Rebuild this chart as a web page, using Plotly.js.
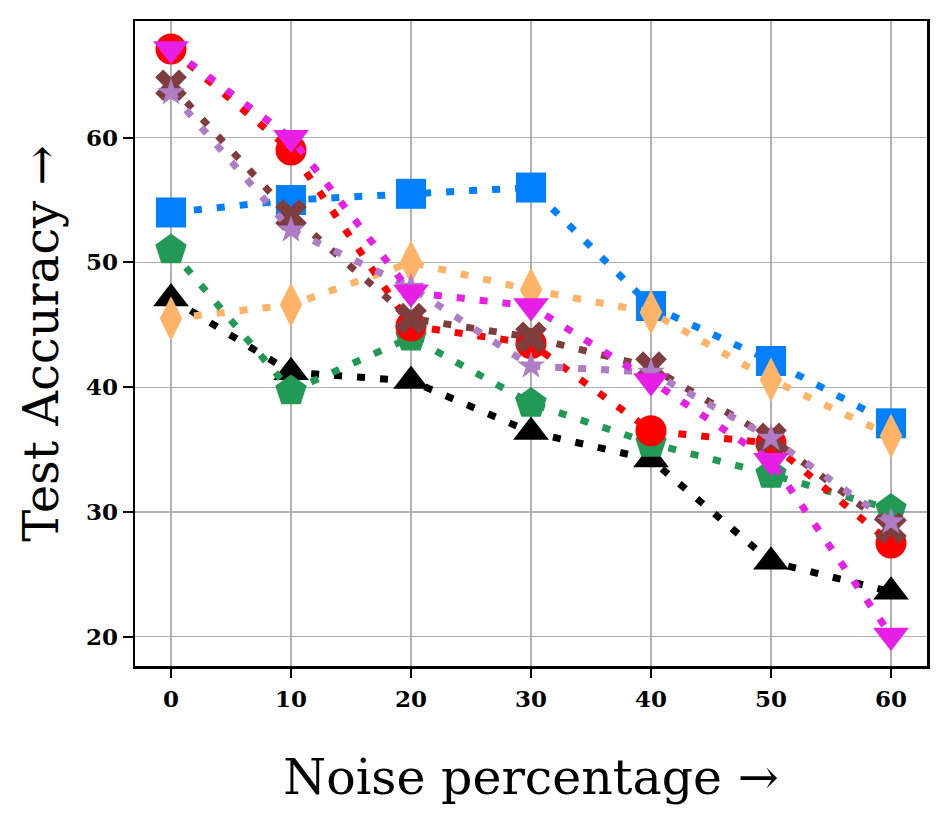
<!DOCTYPE html>
<html>
<head>
<meta charset="utf-8">
<script src="https://cdn.plot.ly/plotly-3.0.1.min.js"></script>
<style>
  html, body { margin: 0; padding: 0; background: #fff; }
  #chart { width: 950px; height: 826px; }
</style>
</head>
<body>
<div id="chart"></div>
<script>
// Noise percentage on the x axis
const noiseLevels = [0, 10, 20, 30, 40, 50, 60];

// Test accuracy per method
const blackAcc = [47.1, 41.2, 40.5, 36.4, 34.2, 26.0, 23.6];
const blueAcc = [54.0, 55.0, 55.5, 56.0, 46.5, 42.1, 37.1];
const orangeAcc = [45.5, 46.6, 50.0, 47.8, 46.0, 40.6, 36.1];
const greenAcc = [51.0, 39.7, 44.0, 38.7, 35.5, 33.0, 30.2];
const redAcc = [67.1, 59.0, 44.9, 43.5, 36.5, 35.5, 27.5];
const brownAcc = [64.2, 53.8, 45.5, 44.0, 41.6, 35.9, 28.7];
const purpleAcc = [63.6, 52.6, 48.0, 41.7, 41.2, 35.9, 29.2];
const magentaAcc = [67.1, 60.0, 47.6, 46.5, 40.5, 34.1, 20.1];

const xTickVals = [0, 10, 20, 30, 40, 50, 60];
const yTickVals = [20, 30, 40, 50, 60];

const serif = "DejaVu Serif, Liberation Serif, serif";

function series(y, color, symbol, size) {
  return {
    x: noiseLevels,
    y: y,
    type: "scatter",
    mode: "lines+markers",
    line: { color: color, width: 7, dash: "8px,15px" },
    marker: { color: color, symbol: symbol, size: size, line: { width: 0 } },
    cliponaxis: false,
  };
}

// drawing order decides which marker sits on top
const data = [
  series(blackAcc, "#000000", "triangle-up", 31),
  series(blueAcc, "#0080ff", "square", 30),
  series(orangeAcc, "#ffb366", "diamond-tall", 32),
  series(greenAcc, "#229a55", "pentagon", 33),
  series(redAcc, "#ff0000", "circle", 31),
  series(brownAcc, "#803d3d", "x", 28),
  series(purpleAcc, "#ae7dc5", "star", 21),
  series(magentaAcc, "#e61ee6", "triangle-down", 31),
];

const layout = {
  width: 950,
  height: 826,
  margin: { l: 135, r: 23, t: 21, b: 160 },
  paper_bgcolor: "#ffffff",
  plot_bgcolor: "#ffffff",
  showlegend: false,
  font: { family: serif, color: "#000" },
  xaxis: {
    range: [-3, 63],
    tickvals: xTickVals,
    ticktext: xTickVals.map(String),
    tickfont: { family: serif, size: 23, weight: "bold" },
    ticks: "outside",
    ticklen: 9,
    tickwidth: 2,
    tickcolor: "#000",
    ticklabelstandoff: 2,
    showline: true,
    mirror: true,
    linecolor: "#000",
    linewidth: 2.5,
    showgrid: true,
    gridcolor: "#b0b0b0",
    gridwidth: 1.2,
    zeroline: false,
    automargin: false,
    title: { text: "Noise percentage →", font: { family: serif, size: 49 }, standoff: 49 },
  },
  yaxis: {
    range: [17.65, 69.35],
    tickvals: yTickVals,
    ticktext: yTickVals.map(String),
    tickfont: { family: serif, size: 23, weight: "bold" },
    ticks: "outside",
    ticklen: 10,
    tickwidth: 2,
    tickcolor: "#000",
    showline: true,
    mirror: true,
    linecolor: "#000",
    linewidth: 2.5,
    showgrid: true,
    gridcolor: "#b0b0b0",
    gridwidth: 1.2,
    zeroline: false,
    automargin: false,
    title: { text: "Test Accuracy →", font: { family: serif, size: 48 }, standoff: 12 },
  },
};

Plotly.newPlot("chart", data, layout, { staticPlot: true, displayModeBar: false });
</script>
</body>
</html>
